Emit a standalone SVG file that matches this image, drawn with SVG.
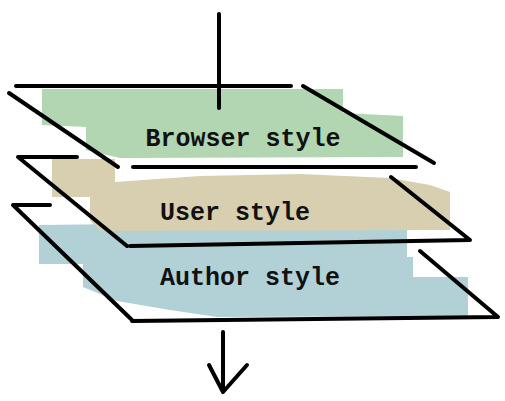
<svg xmlns="http://www.w3.org/2000/svg" width="505" height="401" viewBox="0 0 505 401">
<style>
.ln{stroke:#000;stroke-width:4;fill:none;stroke-linecap:round;stroke-linejoin:round}
.lbl{font-family:"Liberation Mono","Courier New",monospace;font-weight:bold;font-size:25px;fill:#111;text-anchor:middle}
.green{fill:#b2d6b1}
.tan{fill:#d7cfb0}
.blue{fill:#b1d1d6}
</style>
<rect width="505" height="401" fill="#fff"/>
<g id="author">
<polygon class="blue" points="39,225 120,224 250,222 407,224 407,257 413,257 413,277 468,277 468,316 217,317 170,310 117,301 83,287 83,264 39,264"/>
<path class="ln" d="M50,205 L13,205 L132,320 M132,321 L498,317 L420,251"/>
<text class="lbl" x="250" y="285">Author style</text>
</g>
<g id="user">
<polygon class="tan" points="52,159 115,159 115,182 200,176 300,174 390,178 430,185 450,192 450,230 100,231 90,220 90,197 52,197"/>
<path class="ln" d="M77,157 L18,157 L127,246 M130,246 L470,240 L391,177"/>
<text class="lbl" x="235" y="220">User style</text>
</g>
<g id="browser">
<polygon class="green" points="42,89 343,89 343,113 403,116 403,157 120,158 86,150 86,127 42,125"/>
<path class="ln" d="M16,86 L291,86 M9,93 L118,167 M303,86 L434,163 M133,167 L416,167"/>
<text class="lbl" x="243" y="146">Browser style</text>
</g>
<g id="connectors">
<path class="ln" d="M219,14 L219,108"/>
<path class="ln" d="M223,332 L223,392 M209,365 L223,392 L247,365"/>
</g>
</svg>
